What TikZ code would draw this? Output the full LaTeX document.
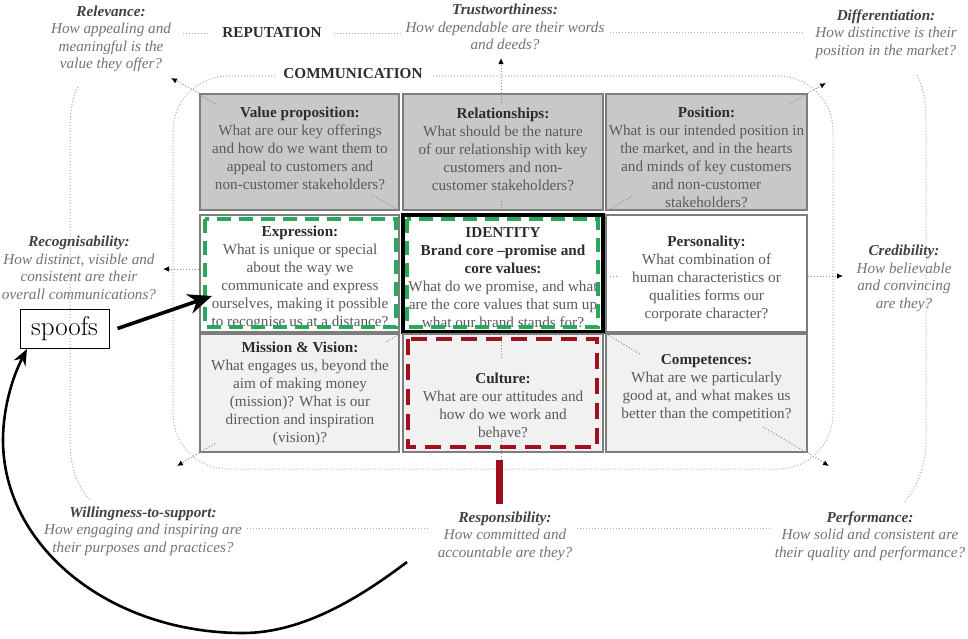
\documentclass[tikz,border=0pt]{standalone}
\usepackage{fontspec}
\newfontfamily\tnr{Liberation Serif}
\usetikzlibrary{arrows.meta}
\definecolor{rowdark}{RGB}{200,200,200}
\definecolor{rowlight}{RGB}{241,241,241}
\definecolor{cellborder}{RGB}{125,125,125}
\definecolor{bodytext}{RGB}{90,90,90}
\definecolor{titletext}{RGB}{45,45,45}
\definecolor{lbltext}{RGB}{115,115,115}
\definecolor{lbltitlecol}{RGB}{65,65,65}
\definecolor{dashgreen}{RGB}{40,168,90}
\definecolor{dashred}{RGB}{160,15,30}
\definecolor{dotgray}{RGB}{140,140,140}
\definecolor{framegray}{RGB}{170,170,170}
\newcommand{\celltitle}[1]{\textcolor{titletext}{\textbf{#1}}}
\newcommand{\lbltitle}[1]{\textcolor{lbltitlecol}{\textbf{#1}}}
\begin{document}
\begin{tikzpicture}[x=1pt,y=-1pt,
 cell/.style={draw=cellborder,line width=1.6pt,inner sep=0pt},
 celltext/.style={align=center,inner sep=0pt,text=bodytext,font=\tnr\fontsize{15.2}{18}\selectfont},
 lbl/.style={align=center,inner sep=0pt,text=lbltext,font=\tnr\itshape\fontsize{15.2}{17.5}\selectfont},
 headword/.style={inner sep=0pt,text=titletext,font=\tnr\bfseries\fontsize{15.2}{18}\selectfont},
 dotline/.style={draw=dotgray,dotted,line width=1pt},
 framedot/.style={draw=framegray,dotted,line width=1pt},
 tipdot/.style={dotline,-{Latex[length=6pt,width=5.5pt,color=black]}},
 greendash/.style={draw=dashgreen,line width=4pt,dash pattern=on 14pt off 8pt},
 reddash/.style={draw=dashred,line width=4.5pt,dash pattern=on 16pt off 9pt},
]
\useasboundingbox (0,0) rectangle (968,638);

% ---------- outer (reputation) frame ----------
\draw[framedot] (183,33) -- (208,33);
\draw[framedot] (334,33) -- (403,33);
\draw[framedot] (610,32) -- (805,32);
\draw[framedot] (78,87) .. controls (71,100) and (70,115) .. (70,135) -- (70,440) .. controls (70,468) and (78,487) .. (90,500);
\draw[framedot] (917,75) .. controls (924,88) and (926,103) .. (926,122) -- (926,440) .. controls (926,468) and (916,488) .. (904,503);
\draw[framedot] (247,528) -- (430,528);
\draw[framedot] (577,528) -- (770,528);

% ---------- communication frame ----------
\draw[framedot,rounded corners=55pt] (173,76) rectangle (833,469);

\node[headword] (rep) at (272,33) {REPUTATION};
\node[headword,fill=white,inner xsep=8pt,inner ysep=3pt] (comm) at (353,74) {COMMUNICATION};

% ---------- cells ----------
\node[cell,fill=rowdark,minimum width=199pt,minimum height=116pt] (vp) at (299.5,152) {};
\node[cell,fill=rowdark,minimum width=200pt,minimum height=116pt] (rel) at (503,152) {};
\node[cell,fill=rowdark,minimum width=201pt,minimum height=116pt] (pos) at (706.5,152) {};
\node[cell,fill=white,minimum width=199pt,minimum height=117pt] (expr) at (299.5,273.5) {};
\node[cell,fill=white,draw=black,line width=3.2pt,minimum width=200pt,minimum height=117pt] (iden) at (503,273.5) {};
\node[cell,fill=white,minimum width=201pt,minimum height=117pt] (pers) at (706.5,273.5) {};
\node[cell,fill=rowlight,minimum width=199pt,minimum height=118pt] (miss) at (299.5,393) {};
\node[cell,fill=rowlight,minimum width=200pt,minimum height=118pt] (cult) at (503,393) {};
\node[cell,fill=rowlight,minimum width=201pt,minimum height=118pt] (comp) at (706.5,393) {};

% ---------- dotted guide lines inside cells ----------
\draw[dotline] (216,104) -- (201,95.5);
\draw[dotline] (371,194.5) -- (398,210);
\draw[dotline] (608,210) -- (632,196);
\draw[dotline] (790,104) -- (805,95);
\draw[dotline] (398,335) -- (385,342.5);
\draw[dotline] (215,443.5) -- (201,451.5);
\draw[dotline] (608,335) -- (640,354);
\draw[dotline] (763,427) -- (805,451.5);
\draw[dotline] (501,96) -- (501,105);
\draw[dotline] (501,198) -- (501,209);
\draw[dotline] (501,336) -- (501,358);
\draw[dotline] (501,432) -- (501,462);
\draw[dotline] (610,276) -- (619,276);

% ---------- dotted arrows to the outer labels ----------
\coordinate (tipTL) at (171,78);
\coordinate (tipT) at (501,58);
\coordinate (tipTR) at (826,83);
\coordinate (tipL) at (163,269);
\coordinate (tipR) at (843,276);
\coordinate (tipBL) at (177,466);
\coordinate (tipBR) at (829,466);
\draw[tipdot] (vp.north west) -- (tipTL);
\draw[tipdot] (rel.north -| 501,0) -- (tipT);
\draw[tipdot] (pos.north east) -- (tipTR);
\draw[tipdot] (expr.west |- 0,269) -- (tipL);
\draw[tipdot] (pers.east |- 0,276) -- (tipR);
\draw[tipdot] (miss.south west) -- (tipBL);
\draw[tipdot] (comp.south east) -- (tipBR);

% ---------- cell texts ----------
\node[celltext] (vpt) at (300,148) {\celltitle{Value proposition:}\\What are our key offerings\\and how do we want them to\\appeal to customers and\\non-customer stakeholders?};
\node[celltext] (relt) at (503,149) {\celltitle{Relationships:}\\What should be the nature\\of our relationship with key\\customers and non-\\customer stakeholders?};
\node[celltext] (post) at (706.5,157) {\celltitle{Position:}\\What is our intended position in\\the market, and in the hearts\\and minds of key customers\\and non-customer\\stakeholders?};
\node[celltext] (exprt) at (300,278) {\celltitle{Expression:}\\What is unique or special\\about the way we\\communicate and express\\ourselves, making it possible\\to recognise us at a distance?};
\node[celltext] (ident) at (503,278) {\celltitle{IDENTITY}\\\celltitle{Brand core –promise and}\\\celltitle{core values:}\\What do we promise, and what\\are the core values that sum up\\what our brand stands for?};
\node[celltext] (perst) at (706.5,279) {\celltitle{Personality:}\\What combination of\\human characteristics or\\qualities forms our\\corporate character?};
\node[celltext] (misst) at (300,394) {\celltitle{Mission \& Vision:}\\What engages us, beyond the\\aim of making money\\(mission)? What is our\\direction and inspiration\\(vision)?};
\node[celltext] (cultt) at (503,405) {\celltitle{Culture:}\\What are our attitudes and\\how do we work and\\behave?};
\node[celltext] (compt) at (706.5,388.5) {\celltitle{Competences:}\\What are we particularly\\good at, and what makes us\\better than the competition?};

% ---------- coloured highlights ----------
\draw[greendash] (205,219) rectangle (396,327);
\draw[greendash] (407,219) rectangle (598,327);
\draw[reddash] (408,339) rectangle (597,447);
\fill[dashred] (496,460) rectangle (503,504);

% ---------- outer labels ----------
\node[lbl] (relev) at (111,39) {\lbltitle{Relevance:}\\How appealing and\\meaningful is the\\value they offer?};
\node[lbl] (trust) at (505,27) {\lbltitle{Trustworthiness:}\\How dependable are their words\\and deeds?};
\node[lbl] (diff) at (886,34) {\lbltitle{Differentiation:}\\How distinctive is their\\position in the market?};
\node[lbl] (recog) at (79,268) {\lbltitle{Recognisability:}\\How distinct, visible and\\consistent are their\\overall communications?};
\node[lbl] (cred) at (904,278.5) {\lbltitle{Credibility:}\\How believable\\and convincing\\are they?};
\node[lbl] (will) at (143,531) {\lbltitle{Willingness-to-support:}\\How engaging and inspiring are\\their purposes and practices?};
\node[lbl] (resp) at (505,536) {\lbltitle{Responsibility:}\\How committed and\\accountable are they?};
\node[lbl] (perf) at (870,536) {\lbltitle{Performance:}\\How solid and consistent are\\their quality and performance?};

% ---------- spoofs ----------
\node[draw=black,line width=1pt,minimum width=89pt,minimum height=39pt,inner sep=0pt,font=\fontsize{27}{27}\selectfont] (spoofs) at (64.5,328.5) {spoofs};
\coordinate (exprtip) at (212,296);
\draw[line width=3.6pt,-{Stealth[length=24pt,width=20pt]}] ([xshift=8pt]spoofs.east) -- (exprtip);
\coordinate (curvestart) at (407,562);
\coordinate (spooftip) at (27,349);
\draw[line width=2.6pt,-{Stealth[length=16pt,width=13pt]}] (curvestart) .. controls (362,596) and (304,633) .. (243,633) .. controls (110,633) and (3,547) .. (3,440) .. controls (3,409) and (12,378) .. (spooftip);
\end{tikzpicture}
\end{document}
